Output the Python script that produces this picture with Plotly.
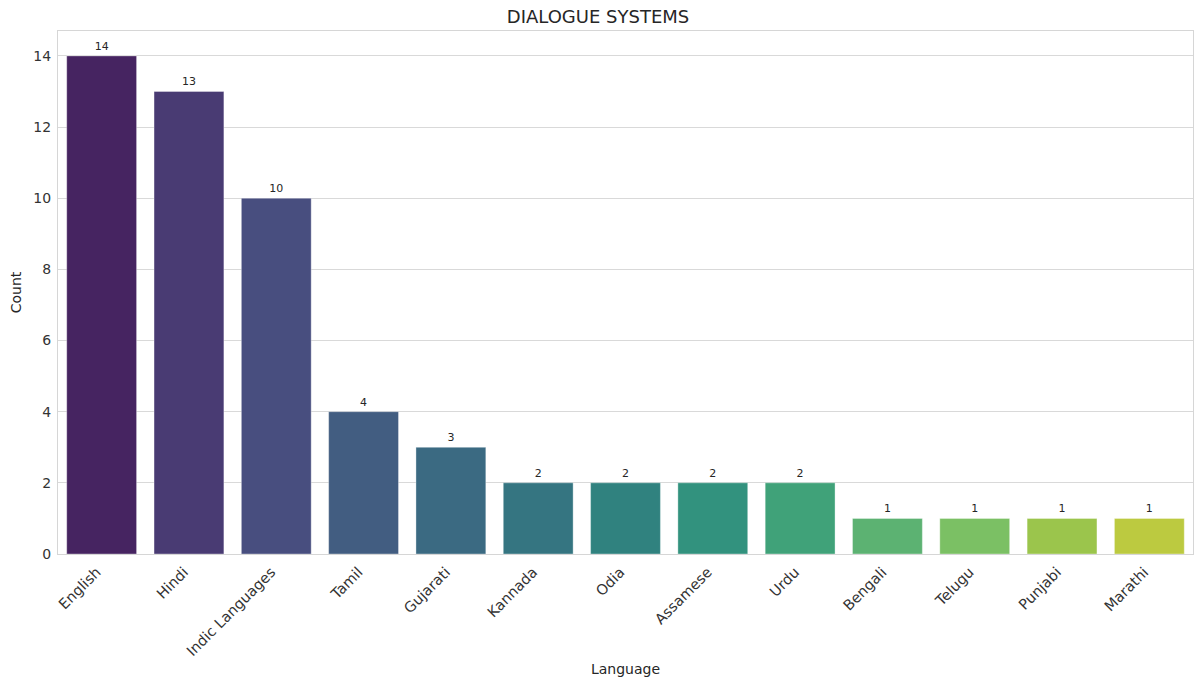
import colorsys
import plotly.graph_objects as go
from plotly.colors import sample_colorscale, unlabel_rgb

# Number of dialogue-system papers per language
languages = ["English", "Hindi", "Indic Languages", "Tamil", "Gujarati", "Kannada",
             "Odia", "Assamese", "Urdu", "Bengali", "Telugu", "Punjabi", "Marathi"]
counts = [14, 13, 10, 4, 3, 2, 2, 2, 2, 1, 1, 1, 1]
y_ticks = [0, 2, 4, 6, 8, 10, 12, 14]


def desaturate(rgb_str, prop=0.75):
    r, g, b = [v / 255 for v in unlabel_rgb(rgb_str)]
    h, l, s = colorsys.rgb_to_hls(r, g, b)
    r, g, b = colorsys.hls_to_rgb(h, l, s * prop)
    return "rgb({:.0f},{:.0f},{:.0f})".format(r * 255, g * 255, b * 255)


n = len(languages)
positions = [(i + 1) / (n + 1) for i in range(n)]
bar_colors = [desaturate(c) for c in sample_colorscale("Viridis", positions)]

fig = go.Figure(
    go.Bar(
        x=languages,
        y=counts,
        marker=dict(color=bar_colors, line=dict(color="rgba(255,255,255,0.35)", width=1)),
        width=0.8,
        text=[str(c) for c in counts],
        textposition="outside",
        textfont=dict(size=11, color="#262626"),
        cliponaxis=False,
    )
)

fig.update_layout(
    width=1196,
    height=681,
    margin=dict(l=58, r=3, t=31, b=127),
    paper_bgcolor="white",
    plot_bgcolor="white",
    font=dict(family="DejaVu Sans", color="#262626"),
    title=dict(text="DIALOGUE SYSTEMS", x=0.5, xanchor="center", y=0.975, yanchor="middle",
               font=dict(size=18, color="#262626")),
    showlegend=False,
    bargap=0.2,
)

fig.update_xaxes(
    automargin=False,
    title=dict(text="Language", font=dict(size=14), standoff=6),
    tickangle=-45,
    tickfont=dict(size=14.5, color="#333333"),
    showgrid=False,
    showline=True, linecolor="#d6d6d6", linewidth=1, mirror=True,
    ticks="outside", ticklen=3, tickcolor="rgba(0,0,0,0)",
    ticklabelshift=-5,
    range=[-0.5, n - 0.5],
)
fig.update_yaxes(
    automargin=False,
    title=dict(text="Count", font=dict(size=14), standoff=8),
    tickvals=y_ticks,
    tickfont=dict(size=14, color="#333333"),
    range=[0, 14.7],
    showgrid=True, gridcolor="#d9d9d9", gridwidth=1,
    showline=True, linecolor="#d6d6d6", linewidth=1, mirror=True,
    zeroline=False, ticks="outside", ticklen=3, tickcolor="rgba(0,0,0,0)",
)

fig.write_html("out.html")
